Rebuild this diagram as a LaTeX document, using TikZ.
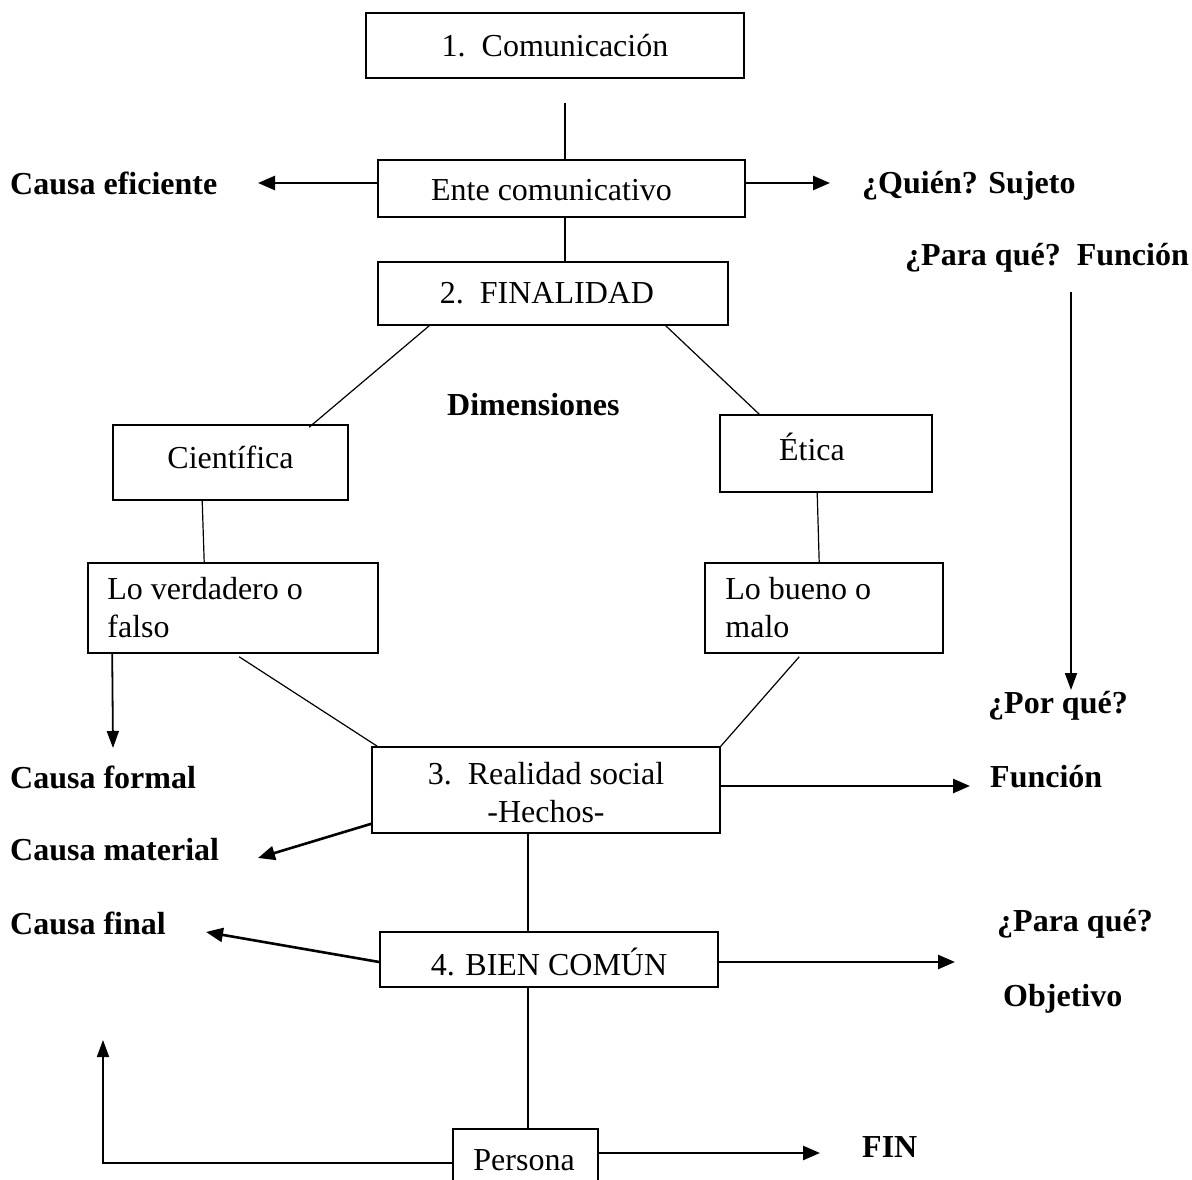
\documentclass[tikz,border=0pt]{standalone}
\usepackage{fontspec}
\setmainfont{Liberation Serif}
\usetikzlibrary{arrows.meta}
\begin{document}
\begin{tikzpicture}[x=1pt,y=-1pt,
  txt/.style={inner sep=0pt,font=\fontsize{32}{38}\selectfont},
  box/.style={draw,line width=1.6pt,inner sep=0pt,align=center,
    font=\fontsize{32}{38}\selectfont},
  lbl/.style={anchor=west,inner sep=0pt,font=\fontsize{32}{38}\selectfont\bfseries},
  link/.style={line width=1.2pt},
  arr/.style={line width=2.6pt,-{Triangle[length=17pt,width=14pt]}},
  thinarr/.style={line width=1.8pt,-{Triangle[length=17pt,width=12pt]}}]
\useasboundingbox (0,0) rectangle (1192,1180);
\clip (0,0) rectangle (1192,1180);

% boxes
\node[box,minimum width=378,minimum height=65] (com) at (555,45.5) {1.\ \ Comunicación};
\node[box,minimum width=367,minimum height=57,
  label={[txt,xshift=-10pt,yshift=-2pt]center:Ente comunicativo}] (ente) at (561.5,188.5) {};
\node[box,minimum width=350,minimum height=63,
  label={[txt,xshift=-6pt]center:2.\ \ FINALIDAD}] (fin) at (553,293.5) {};
\node[box,minimum width=235,minimum height=75,
  label={[txt,yshift=5pt]center:Científica}] (cient) at (230.5,462.5) {};
\node[box,minimum width=212,minimum height=77,
  label={[txt,xshift=-14pt,yshift=7pt]center:Ética}] (etica) at (826,453.5) {};
\node[box,minimum width=290,minimum height=90,
  label={[txt,anchor=west,align=left,xshift=20pt]west:Lo verdadero o\\falso}] (verd) at (233,608) {};
\node[box,minimum width=238,minimum height=90,
  label={[txt,anchor=west,align=left,xshift=21pt]west:Lo bueno o\\malo}] (bueno) at (824,608) {};
\node[box,minimum width=348,minimum height=86,
  label={[txt,align=center,yshift=-3pt]center:3.\ \ Realidad social\\-Hechos-}] (real) at (546,790) {};
\node[box,minimum width=338,minimum height=55,
  label={[txt,yshift=-2pt]center:4. BIEN COMÚN}] (bien) at (549,959.5) {};
\node[box,minimum width=145,minimum height=70,
  label={[txt,anchor=west,xshift=21pt,yshift=4pt]west:Persona}] (pers) at (525.5,1164) {};

% labels
\node[lbl] (efic) at (10,183) {Causa eficiente};
\node[lbl] (quien) at (862,186) {¿Quién? Sujeto};
\node[lbl] (parafun) at (905,258) {¿Para qué?\ \ Función};
\node[lbl] (dim) at (447,405) {Dimensiones};
\node[lbl] (porque) at (988,706) {¿Por qué?};
\node[lbl] (formal) at (10,777) {Causa formal};
\node[lbl] (funcion) at (990,777) {Función};
\node[lbl] (material) at (10,850) {Causa material};
\node[lbl] (final) at (10,923) {Causa final};
\node[lbl] (parque) at (997,924) {¿Para qué?};
\node[lbl] (objetivo) at (1003,999) {Objetivo};
\node[lbl] (finl) at (862,1147) {FIN};

% free ends
\coordinate (ctop) at (565,103);
\coordinate (efic-end) at (258,183);
\coordinate (quien-end) at (830,183);
\coordinate (vtop) at (1071,292);
\coordinate (vbot) at (1071,690);
\coordinate (formal-end) at (113,748);
\coordinate (funcion-end) at (970,786);
\coordinate (material-end) at (258,858);
\coordinate (final-end) at (206,932);
\coordinate (objetivo-end) at (955,962);
\coordinate (corner) at (103,1163);
\coordinate (up-end) at (103,1040);
\coordinate (fin-end) at (820,1153);
\coordinate (midx) at (528,0);

% plain links
\draw[link] (ctop) -- (ctop |- ente.north);
\draw[link] (ente.south -| ctop) -- (fin.north -| ctop);
\draw[link] ([xshift=52pt]fin.south west) -- ([xshift=197pt,yshift=-3pt]cient.north west);
\draw[link] ([xshift=-63pt]fin.south east) -- ([xshift=40pt]etica.north west);
\draw[link] ([xshift=90pt]cient.south west) -- ([xshift=117pt]verd.north west);
\draw[link] ([xshift=98pt]etica.south west) -- ([xshift=115pt]bueno.north west);
\draw[link] ([xshift=152pt,yshift=-3pt]verd.south west) -- ([xshift=6pt]real.north west);
\draw[link] ([xshift=95pt,yshift=-3pt]bueno.south west) -- (real.north east);
\draw[link] (real.south -| midx) -- (bien.north -| midx);
\draw[link] (bien.south -| midx) -- (pers.north -| midx);

% arrows
\draw[arr] (ente.west |- efic-end) -- (efic-end);
\draw[arr] (ente.east |- quien-end) -- (quien-end);
\draw[thinarr] (vtop) -- (vbot);
\draw[thinarr] ([xshift=25pt]verd.south west) -- (formal-end);
\draw[arr] (real.east |- funcion-end) -- (funcion-end);
\draw[arr] ([yshift=10pt]real.south west) -- (material-end);
\draw[arr] ([yshift=-2.5pt]bien.west) -- (final-end);
\draw[arr] ([yshift=-2.5pt]bien.east) -- (objetivo-end);
\draw[thinarr] (pers.west |- corner) -- (corner) -- (up-end);
\draw[arr] (pers.east |- fin-end) -- (fin-end);
\end{tikzpicture}
\end{document}
